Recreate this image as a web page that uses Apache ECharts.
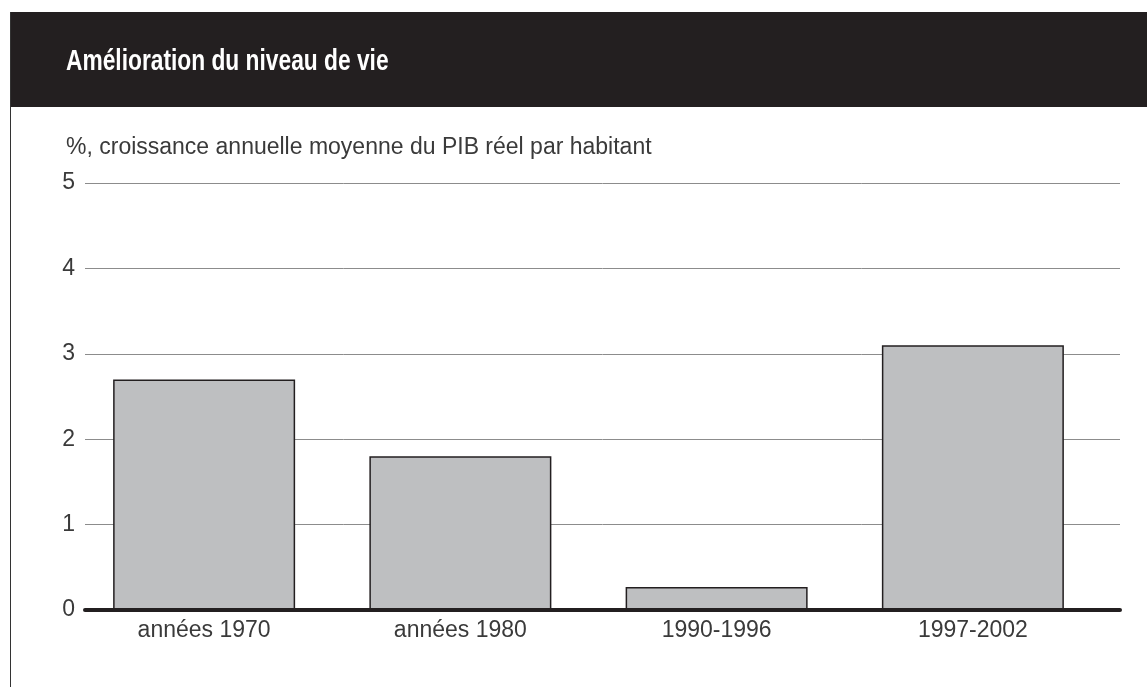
<!DOCTYPE html>
<html>
<head>
<meta charset="utf-8">
<script src="https://cdn.jsdelivr.net/npm/echarts@6/dist/echarts.min.js"></script>
<style>
  html, body { margin: 0; padding: 0; background: #fff; }
  #chart { width: 1147px; height: 687px; }
</style>
</head>
<body>
<div id="chart"></div>
<script>
// données du graphique
const categories = ['années 1970', 'années 1980', '1990-1996', '1997-2002'];
const values = [2.7, 1.8, 0.27, 3.1];
const yTicks = [0, 1, 2, 3, 4, 5];

const titleText = 'Amélioration du niveau de vie';
const subtitleText = '%, croissance annuelle moyenne du PIB réel par habitant';

const chart = echarts.init(document.getElementById('chart'));

const labelFont = '"Liberation Sans", Arial, sans-serif';

const option = {
    animation: false,
    backgroundColor: '#ffffff',
    graphic: [
        // bandeau du titre
        { type: 'rect', left: 10, top: 12, shape: { width: 1137, height: 95 }, style: { fill: '#231f20' }, z: 0 },
        // bordure gauche
        { type: 'rect', left: 10, top: 12, shape: { width: 1, height: 675 }, style: { fill: '#333' }, z: 0 },
        {
            type: 'text', x: 66, y: 62, scaleX: 0.785, z: 1,
            style: {
                text: titleText, fill: '#ffffff',
                font: 'bold 29px "Liberation Sans Narrow", "Liberation Sans", sans-serif',
                verticalAlign: 'middle'
            }
        },
        {
            type: 'text', x: 66, y: 148, z: 1,
            style: {
                text: subtitleText, fill: '#3a3a3a',
                font: '23px ' + labelFont,
                verticalAlign: 'middle'
            }
        }
    ],
    grid: [
        { left: 85, right: 27, top: 183, bottom: 77 },
        { left: 76, right: 46, top: 183, bottom: 77 }
    ],
    xAxis: [
        {
            gridIndex: 0, type: 'category', data: categories, z: 10,
            axisLine: { lineStyle: { color: '#231f20', width: 4 } },
            axisTick: { show: false }, axisLabel: { show: false }
        },
        {
            gridIndex: 1, type: 'category', data: categories,
            axisLine: { show: false }, axisTick: { show: false },
            axisLabel: { color: '#3a3a3a', fontSize: 23, margin: 9, fontFamily: labelFont }
        }
    ],
    yAxis: [
        {
            gridIndex: 0, type: 'value', min: yTicks[0], max: yTicks[yTicks.length - 1], interval: 1,
            axisLine: { show: false }, axisTick: { show: false },
            axisLabel: { color: '#3a3a3a', fontSize: 23, margin: 10, fontFamily: labelFont },
            splitLine: { lineStyle: { color: '#8c8c8c', width: 1 } }
        },
        {
            gridIndex: 1, type: 'value', min: yTicks[0], max: yTicks[yTicks.length - 1], interval: 1,
            show: false, splitLine: { show: false }
        }
    ],
    series: [
        {
            type: 'bar', data: values, xAxisIndex: 1, yAxisIndex: 1,
            barWidth: 182,
            itemStyle: { color: '#bebfc1', borderColor: '#231f20', borderWidth: 1.5 }
        }
    ]
};

chart.setOption(option);
</script>
</body>
</html>
